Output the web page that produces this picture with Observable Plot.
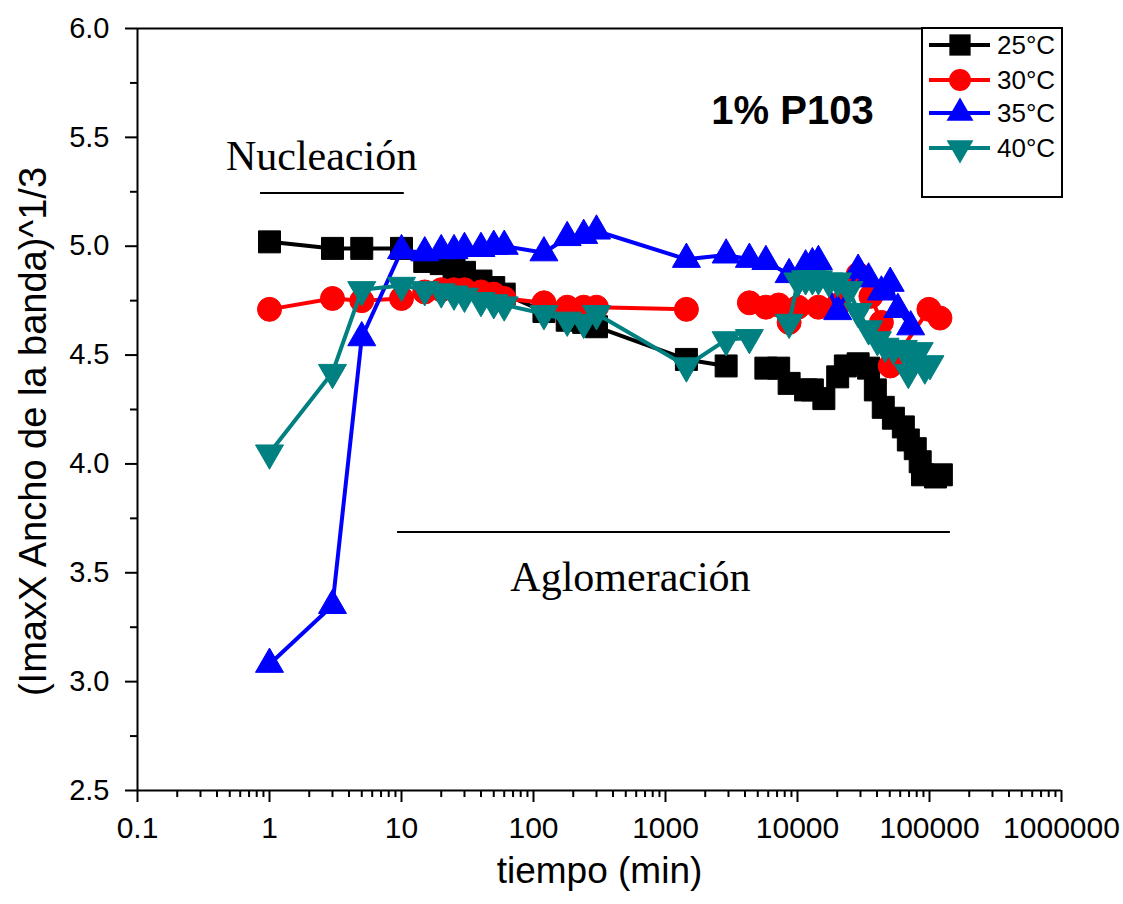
<!DOCTYPE html>
<html>
<head>
<meta charset="utf-8">
<script src="https://cdn.jsdelivr.net/npm/d3@7"></script>
<script src="https://cdn.jsdelivr.net/npm/@observablehq/plot@0.6"></script>
<style>
  html, body { margin: 0; padding: 0; background: #fff; }
  #chart { width: 1123px; height: 904px; }
</style>
</head>
<body>
<div id="chart"></div>
<script>
// ---- data ----
const seriesNames = ["25°C", "30°C", "35°C", "40°C"];
const seriesColors = ["#000000", "#ff0000", "#0000ff", "#008080"];

const times25 = [1,3,5,10,15,20,25,30,40,50,60,120,180,240,300,1440,2880,4320,5760,7200,8640,11520,12960,15840,20160,23040,28800,34560,38880,44640,53280,63360,69120,78000,85000,88500,111000,123000];
const vals25  = [5.02,4.99,4.99,4.99,4.93,4.92,4.90,4.88,4.84,4.81,4.78,4.70,4.66,4.65,4.63,4.48,4.45,null,4.44,4.44,4.37,4.34,4.34,4.30,4.40,4.45,4.46,4.44,4.34,4.26,4.21,4.17,4.11,4.07,4.01,3.95,3.94,3.95];

const times30 = [1,3,5,10,15,20,25,30,40,50,60,120,180,240,300,1440,2880,4320,5760,7200,8640,10080,14400,20160,28800,36000,43200,50400,99000,120000];
const vals30  = [4.71,4.76,4.75,4.76,4.79,4.80,4.80,4.80,4.79,4.78,4.76,4.74,4.72,4.72,4.72,4.71,null,4.74,4.72,4.73,4.65,4.72,4.72,4.73,4.87,4.77,4.65,4.45,4.71,4.67];

const times35 = [1,3,5,10,15,20,25,30,40,50,60,120,180,240,300,1440,2880,4320,5760,8640,11520,12960,14400,20160,28800,34560,43200,50400,57600,72000];
const vals35  = [3.08,3.35,4.58,4.98,4.97,4.98,4.98,4.99,4.99,5.00,5.00,4.97,5.04,5.05,5.07,4.94,4.96,4.94,4.93,4.87,4.91,4.92,4.93,4.70,4.89,4.85,4.79,4.83,4.71,4.63];

const times40 = [1,3,5,10,15,20,25,30,40,50,60,120,180,240,300,1440,2880,4320,5760,8640,10080,11520,12960,14400,17280,20160,24480,28800,34560,40320,46080,53280,63360,69120,76320,83520,92160,100800];
const vals40  = [4.05,4.42,4.80,4.82,4.80,4.79,4.78,4.77,4.75,4.74,4.73,4.69,4.66,4.65,4.69,4.45,4.57,4.58,null,4.65,4.84,4.85,4.85,4.85,4.84,4.84,4.80,4.70,4.62,4.57,4.54,4.53,4.53,4.42,4.49,4.52,4.44,4.46];

const xTickValues = [0.1,1,10,100,1000,10000,100000,1000000];
const xTickLabels = ["0.1","1","10","100","1000","10000","100000","1000000"];
const yTickValues = [2.5,3.0,3.5,4.0,4.5,5.0,5.5,6.0];
const yMinorValues = [2.75,3.25,3.75,4.25,4.75,5.25,5.75];
const xTitle = "tiempo (min)";
const yTitle = "(ImaxX Ancho de la banda)^1/3";
const annotTitle = "1% P103";
const annotNucleacion = "Nucleación";
const annotAglomeracion = "Aglomeración";

// ---- build tables ----
function table(t, v) { return t.map((d, i) => ({t: d, v: v[i]})); }
const d25 = table(times25, vals25);
const d30 = table(times30, vals30);
const d35 = table(times35, vals35);
const d40 = table(times40, vals40);

const xMinor = [];
for (let e = -1; e < 6; e++) for (let k = 2; k <= 9; k++) xMinor.push(k * Math.pow(10, e));

const sqrt3 = Math.sqrt(3);
const triDown = {
  draw(context, size) {
    const y = -Math.sqrt(size / (sqrt3 * 3));
    context.moveTo(0, -y * 2);
    context.lineTo(-sqrt3 * y, y);
    context.lineTo(sqrt3 * y, y);
    context.closePath();
  }
};

function series(data, color, symbol, r) {
  return [
    Plot.line(data, {x: "t", y: "v", stroke: color, strokeWidth: 4}),
    Plot.dot(data.filter(d => d.v != null), {x: "t", y: "v", fill: color, stroke: color, strokeWidth: 1, symbol, r})
  ];
}

const chart = Plot.plot({
  width: 1123,
  height: 904,
  marginLeft: 137,
  marginRight: 62,
  marginTop: 28,
  marginBottom: 114,
  style: {fontFamily: "'Liberation Sans', Arial, sans-serif", background: "#fff", color: "#000"},
  x: {type: "log", domain: [0.1, 1000000]},
  y: {domain: [2.5, 6.0]},
  marks: [
    // frame lines
    Plot.ruleX([0.1], {stroke: "#000", strokeWidth: 2}),
    Plot.ruleY([2.5], {stroke: "#000", strokeWidth: 2}),
    Plot.ruleY([6.0], {stroke: "#000", strokeWidth: 2}),
    // axes
    Plot.axisX({ticks: xTickValues, tickFormat: d => xTickLabels[xTickValues.indexOf(d)], tickSize: 12, tickPadding: 14, fontSize: 30, strokeWidth: 2, label: null}),
    Plot.axisX({ticks: xMinor, tickFormat: () => "", tickSize: 7, strokeWidth: 2, label: null}),
    Plot.axisY({ticks: yTickValues, tickFormat: d => d.toFixed(1), tickSize: 12, tickPadding: 16, fontSize: 29, strokeWidth: 2, label: null}),
    Plot.axisY({ticks: yMinorValues, tickFormat: () => "", tickSize: 7, strokeWidth: 2, label: null}),
    // titles
    Plot.text([xTitle], {frameAnchor: "bottom", dy: 92, fontSize: 37, text: d => d}),
    Plot.text([yTitle], {frameAnchor: "left", textAnchor: "middle", rotate: -90, dx: -104, dy: 22, fontSize: 38, text: d => d}),
    // annotations
    Plot.ruleY([{y: 5.244, a: 0.855, b: 10.5}], {y: "y", x1: "a", x2: "b", stroke: "#000", strokeWidth: 2}),
    Plot.ruleY([{y: 3.687, a: 9.33, b: 144000}], {y: "y", x1: "a", x2: "b", stroke: "#000", strokeWidth: 2}),
    Plot.text([{x: 2.48, y: 5.41, s: annotNucleacion}], {x: "x", y: "y", text: "s", fontSize: 42, fontFamily: "'Liberation Serif', 'Times New Roman', serif"}),
    Plot.text([{x: 543, y: 3.48, s: annotAglomeracion}], {x: "x", y: "y", text: "s", fontSize: 42, fontFamily: "'Liberation Serif', 'Times New Roman', serif"}),
    Plot.text([{x: 9160, y: 5.62, s: annotTitle}], {x: "x", y: "y", text: "s", fontSize: 40, fontWeight: "bold"}),
    // data series
    ...series(d25, seriesColors[0], "square", 12.4),
    ...series(d30, seriesColors[1], "circle", 12),
    ...series(d35, seriesColors[2], "triangle", 10.4),
    ...series(d40, seriesColors[3], triDown, 10.4)
  ]
});

document.getElementById("chart").appendChild(chart);

// ---- legend (inside the plot, top-right) ----
const svg = d3.select(chart);
const lg = svg.append("g").attr("transform", "translate(922,28)");
lg.append("rect").attr("x", 0).attr("y", 0).attr("width", 140).attr("height", 169)
  .attr("fill", "#fff").attr("stroke", "#000").attr("stroke-width", 2);
const symbols = [d3.symbolSquare, d3.symbolCircle, d3.symbolTriangle, triDown];
const sizes = [12, 11, 10, 10];
const rowsY = [17, 52, 85, 120];
seriesNames.forEach((name, i) => {
  const g = lg.append("g").attr("transform", `translate(0,${rowsY[i]})`);
  g.append("line").attr("x1", 7).attr("x2", 68).attr("y1", 0).attr("y2", 0)
    .attr("stroke", seriesColors[i]).attr("stroke-width", 4);
  const r = sizes[i];
  g.append("path").attr("transform", "translate(38,0)")
    .attr("d", d3.symbol(symbols[i], Math.PI * r * r)())
    .attr("fill", seriesColors[i]);
  g.append("text").attr("x", 75).attr("y", 0).attr("dy", "0.35em")
    .attr("text-anchor", "start")
    .attr("font-size", 26).attr("font-family", "'Liberation Sans', Arial, sans-serif")
    .attr("fill", "#000").text(name);
});
</script>
</body>
</html>
